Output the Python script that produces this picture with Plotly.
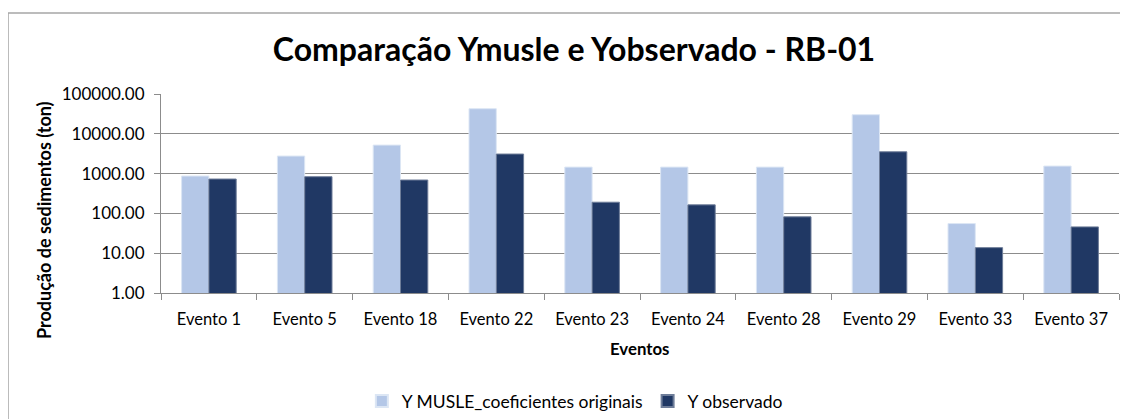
import plotly.graph_objects as go

categories = ["Evento 1", "Evento 5", "Evento 18", "Evento 22", "Evento 23",
              "Evento 24", "Evento 28", "Evento 29", "Evento 33", "Evento 37"]
y_musle = [870, 2760, 5200, 42700, 1455, 1455, 1455, 30200, 55.6, 1545]
y_obs = [731, 835, 690, 3100, 191, 164, 82, 3530, 13.8, 45.8]
y_tickvals = [1, 10, 100, 1000, 10000, 100000]
y_ticktext = ["1.00", "10.00", "100.00", "1000.00", "10000.00", "100000.00"]

FONT = "Lato"
GRID = "#8c8c8c"

fig = go.Figure()
fig.add_trace(go.Bar(
    x=categories, y=y_musle, name="Y MUSLE_coeficientes originais",
    marker=dict(color="#B4C7E7", line=dict(color="#dce6f4", width=1)),
))
fig.add_trace(go.Bar(
    x=categories, y=y_obs, name="Y observado",
    marker=dict(color="#203864", line=dict(color="#6e7d99", width=1)),
))

# page has an 8px body margin; figure coordinates = page - 8
fig.update_layout(
    width=1120, height=411,
    margin=dict(l=153, r=9, t=86, b=126, autoexpand=False),
    paper_bgcolor="white", plot_bgcolor="white",
    barmode="group", bargap=0.43, bargroupgap=0,
    font=dict(family=FONT, color="#000000", size=14),
    title=dict(text="<b>Comparação Ymusle e Yobservado - RB-01</b>",
               x=566 / 1120, xref="container", xanchor="center",
               y=1 - 42 / 411, yref="container", yanchor="middle",
               font=dict(family=FONT, size=32, color="#000000")),
    showlegend=True,
    legend=dict(orientation="h", x=0.432, xanchor="center", y=-0.543, yanchor="middle",
                font=dict(family=FONT, size=17.5, color="#000000"),
                traceorder="normal", itemsizing="constant", bgcolor="rgba(0,0,0,0)"),
    xaxis=dict(
        type="category", showgrid=False, showline=True, linecolor=GRID, linewidth=1,
        ticks="outside", tickson="boundaries", ticklen=6, tickcolor=GRID,
        ticklabelstandoff=11,
        tickfont=dict(family=FONT, size=16.5, color="#000000"),
    ),
    yaxis=dict(
        type="log", range=[0, 5], tickvals=y_tickvals, ticktext=y_ticktext,
        showgrid=True, gridcolor=GRID, gridwidth=1,
        showline=True, linecolor=GRID, linewidth=1,
        ticks="outside", ticklen=6, tickcolor=GRID,
        ticklabelstandoff=6,
        tickfont=dict(family=FONT, size=17, color="#000000"),
        zeroline=False,
    ),
    annotations=[
        dict(text="<b>Produção de sedimentos (ton)</b>", textangle=-90,
             xref="paper", yref="paper", x=-0.1221, y=0.367,
             xanchor="center", yanchor="middle", showarrow=False,
             font=dict(family=FONT, size=18, color="#000000")),
        dict(text="<b>Eventos</b>",
             xref="paper", yref="paper", x=0.4995, y=-0.281,
             xanchor="center", yanchor="middle", showarrow=False,
             font=dict(family=FONT, size=16.8, color="#000000")),
    ],
    shapes=[dict(type="rect", xref="paper", yref="paper",
                 x0=-0.1597, x1=1.05, y0=-0.7, y1=1.407,
                 line=dict(color="#a6a6a6", width=1.5), fillcolor="rgba(0,0,0,0)",
                 layer="below")],
)

fig.write_html("out.html")
